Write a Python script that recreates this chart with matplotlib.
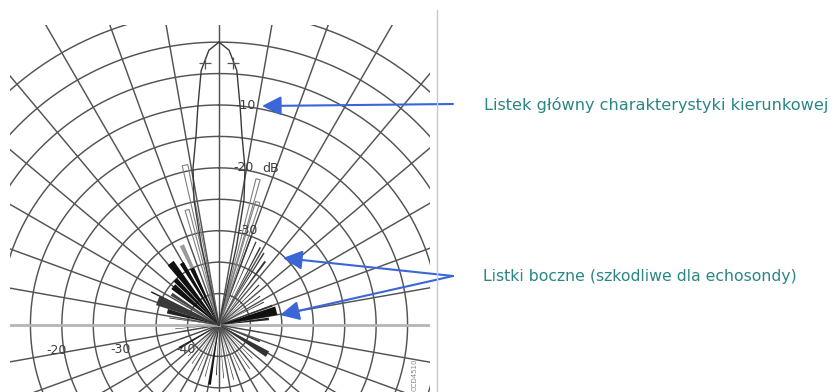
import numpy as np
import matplotlib
matplotlib.use("Agg")
import matplotlib.pyplot as plt
from matplotlib.patches import Rectangle, FancyArrowPatch
from matplotlib.lines import Line2D

# ---- beam pattern data (angle in degrees, clockwise from the acoustic axis; level in dB) ----
main_lobe_deg = [-13.0, -12.5, -11.3, -9.4, -6.9, -5.5, -4.0, -2.1, 0.0,
                 2.1, 4.0, 5.5, 6.9, 9.4, 11.3, 12.5, 13.0]
main_lobe_db = [-45.0, -32.0, -24.7, -19.7, -14.6, -10.0, -4.4, -1.25, 0.0,
                -1.25, -4.4, -10.0, -14.6, -19.7, -24.7, -32.0, -45.0]

# -3 dB beam-width marks
half_power_deg = [-3.1, 3.1]
half_power_db = [-3.3, -3.3]

# near side lobes drawn as outlines
near_lobe_deg = [-12.0, -15.5, 15.0, 17.5]
near_lobe_db = [-19.0, -26.0, -21.0, -24.5]
near_lobe_width = [2.0, 2.0, 1.6, 2.0]

# far side lobes (filled spikes)
side_lobe_deg = [-25.0, -25.5, -31.0, -38.0, -44.0, -50.0, -57.0, -64.0, -68.0, -75.0,
                 -82.0, -95.0,
                 20.0, 24.0, 28.0, 32.0, 36.0, 45.0, 55.0, 63.0, 70.0, 76.0, 83.0,
                 100.0, 112.0, 121.0, 135.0, 145.0, 155.0, 165.0, 175.0, 183.0, 189.0,
                 195.0, 205.0, 215.0, 225.0, 240.0, 250.0, 260.0]
side_lobe_db = [-31.0, -35.0, -33.5, -32.5, -35.0, -35.5, -36.0, -33.0, -34.5, -36.5,
                -37.0, -38.0,
                -30.0, -30.5, -31.0, -31.5, -32.5, -36.0, -37.0, -37.0, -36.0, -35.6, -37.0,
                -38.5, -38.0, -36.0, -37.5, -36.5, -37.0, -36.0, -36.5, -37.0, -35.4,
                -36.5, -37.0, -37.5, -38.0, -37.7, -38.5, -39.0]
side_lobe_width = [3.0, 4.0, 3.5, 5.5, 4.5, 6.0, 3.5, 1.2, 9.0, 5.0,
                   1.0, 0.8,
                   0.8, 0.8, 1.0, 1.0, 1.5, 1.2, 1.2, 1.2, 2.0, 8.5, 3.0,
                   0.8, 2.0, 6.5, 0.8, 0.8, 0.8, 0.8, 0.8, 1.0, 2.5,
                   0.8, 0.8, 0.8, 0.8, 3.0, 0.8, 0.8]
side_lobe_color = ["#9a9a9a", "#111111", "#111111", "#111111", "#111111", "#111111", "#444444",
                   "#222222", "#3a3a3a", "#222222",
                   "#333333", "#333333",
                   "#333333", "#333333", "#333333", "#333333", "#333333", "#333333", "#333333",
                   "#333333", "#333333", "#111111", "#222222",
                   "#333333", "#333333", "#333333", "#333333", "#333333", "#333333", "#333333",
                   "#333333", "#222222", "#111111",
                   "#333333", "#333333", "#333333", "#333333", "#222222", "#333333", "#333333"]

# grid of the diagram
ring_db = [-40, -35, -30, -25, -20, -15, -10, -5, 0, 5]
spoke_deg = list(range(0, 360, 10))
r_min, r_max = -45, 25

# level labels: (angle, level, text)
level_label_deg = [6.8, 9.0, 18.3, 17.0, 261.2, 255.8, 234.0]
level_label_db = [-9.9, -19.7, -18.7, -29.2, -18.9, -28.8, -38.5]
level_label_txt = ["-10", "-20", "dB", "-30", "-20", "-30", "-40"]

W, H = 838, 392
fig = plt.figure(figsize=(W / 100, H / 100), dpi=100)
fig.patch.set_facecolor("white")

# polar axes centred on the transducer, scaled so that 1 dB = 6.29 px
cx, cy = 219, 325
rad_px = 6.286 * (r_max - r_min)
ax = fig.add_axes([(cx - rad_px) / W, (H - cy - rad_px) / H, 2 * rad_px / W, 2 * rad_px / H],
                  projection="polar")
ax.set_theta_zero_location("N")
ax.set_theta_direction(-1)
ax.set_ylim(r_min, r_max)
ax.set_axis_off()

clip = Rectangle((10 / W, -0.2), 420 / W, (H - 25) / H + 0.2, transform=fig.transFigure,
                 facecolor="none", edgecolor="none")

grid_color = "#535353"
artists = []
theta_full = np.linspace(0, 2 * np.pi, 1441)
for lvl in ring_db:
    artists += ax.plot(theta_full, np.full_like(theta_full, lvl), color=grid_color, lw=1.05)
for a in spoke_deg:
    if a in (90, 270):
        artists += ax.plot([np.radians(a)] * 2, [r_min, r_max], color="#b5b5b5", lw=2.0)
    else:
        artists += ax.plot([np.radians(a)] * 2, [r_min, r_max], color=grid_color, lw=1.05)

# far side lobes
bars = ax.bar(np.radians(side_lobe_deg), np.array(side_lobe_db) - r_min,
              width=np.radians(side_lobe_width), bottom=r_min,
              color=side_lobe_color, edgecolor="none", zorder=3)
artists += list(bars)

# near side lobes (outlines)
nbars = ax.bar(np.radians(near_lobe_deg), np.array(near_lobe_db) - r_min,
               width=np.radians(near_lobe_width), bottom=r_min,
               facecolor="none", edgecolor="#808080", lw=0.8, zorder=3)
artists += list(nbars)

# main lobe
artists += ax.plot(np.radians(main_lobe_deg), main_lobe_db, color="#3a3a3a", lw=1.0, zorder=4)
artists += ax.plot(np.radians(half_power_deg), half_power_db, ls="none", marker="+",
                   ms=8, mew=0.9, color="#555555", zorder=4)

for art in artists:
    art.set_clip_path(clip)

for a, lvl, txt in zip(level_label_deg, level_label_db, level_label_txt):
    ax.text(np.radians(a), lvl, txt, ha="center", va="center", fontsize=9,
            color="#3c3c3c", zorder=5)

# code printed in the corner of the diagram sheet
fig.text(415 / W, 1 - 375 / H, "CCD4510", rotation=90, fontsize=5, color="#888888",
         ha="center", va="center")

# frame edge of the diagram sheet
fig.add_artist(Line2D([437 / W, 437 / W], [0, 1 - 10 / H], color="#c8c8c8", lw=1.0))

# annotations
teal = "#2b8585"
blue = "#3b66d8"
fig.text(484 / W, 1 - 105 / H, "Listek główny charakterystyki kierunkowej",
         fontsize=11.6, color=teal, ha="left", va="center")
fig.text(483 / W, 1 - 277 / H, "Listki boczne (szkodliwe dla echosondy)",
         fontsize=11.3, color=teal, ha="left", va="center")

arrow_kw = dict(arrowstyle="-|>,head_length=0.9,head_width=0.45", mutation_scale=13,
                color=blue, lw=1.5, shrinkA=0, shrinkB=0, transform=fig.transFigure)
for (x0, y0), (x1, y1) in [((453, 104), (262, 106)), ((453, 276), (283, 258)),
                           ((453, 276), (280, 315))]:
    fig.add_artist(FancyArrowPatch((x0 / W, 1 - y0 / H), (x1 / W, 1 - y1 / H), **arrow_kw))

fig.savefig("out.png", dpi=100, facecolor="white")
